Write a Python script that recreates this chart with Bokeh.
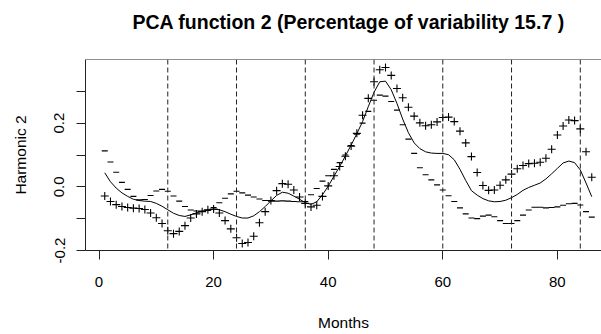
import math
from bokeh.plotting import figure
from bokeh.models import Span, FixedTicker, Title, Range1d
from bokeh.embed import file_html
from bokeh.resources import INLINE

months = list(range(1, 87))

mean_curve = [
    0.044, 0.016, -0.004, -0.019, -0.030, -0.039, -0.043, -0.045, -0.046, -0.052,
    -0.061, -0.072, -0.083, -0.090, -0.093, -0.088, -0.082, -0.077, -0.073, -0.070,
    -0.072, -0.078, -0.086, -0.093, -0.098, -0.098, -0.091, -0.078, -0.062, -0.044,
    -0.027, -0.017, -0.020, -0.029, -0.039, -0.050, -0.055, -0.047, -0.025, 0.002,
    0.033, 0.064, 0.097, 0.131, 0.167, 0.205, 0.252, 0.297, 0.330, 0.332,
    0.305, 0.262, 0.213, 0.170, 0.138, 0.120, 0.110, 0.106, 0.105, 0.105,
    0.101, 0.085, 0.055, 0.020, -0.012, -0.026, -0.037, -0.044, -0.047, -0.046,
    -0.042, -0.034, -0.024, -0.011, -0.002, 0.005, 0.012, 0.025, 0.041, 0.058,
    0.075, 0.081, 0.076, 0.053, 0.012, -0.031,
]

plus_curve = [
    -0.029, -0.046, -0.056, -0.062, -0.065, -0.067, -0.068, -0.071, -0.082, -0.097,
    -0.115, -0.138, -0.147, -0.140, -0.122, -0.098, -0.085, -0.078, -0.072, -0.070,
    -0.082, -0.106, -0.132, -0.160, -0.178, -0.175, -0.155, -0.113, -0.078, -0.043,
    -0.012, 0.010, 0.008, -0.010, -0.032, -0.052, -0.063, -0.058, -0.030, 0.003,
    0.035, 0.064, 0.096, 0.128, 0.168, 0.225, 0.278, 0.330, 0.368, 0.375,
    0.350, 0.309, 0.280, 0.250, 0.222, 0.201, 0.192, 0.195, 0.204, 0.218,
    0.219, 0.205, 0.175, 0.138, 0.095, 0.045, 0.004, -0.011, -0.010, 0.005,
    0.022, 0.040, 0.057, 0.067, 0.073, 0.074, 0.077, 0.090, 0.118, 0.163,
    0.191, 0.210, 0.208, 0.182, 0.110, 0.030,
]

minus_curve = [
    0.113, 0.078, 0.046, 0.014, -0.008, -0.030, -0.041, -0.040, -0.027, -0.013,
    -0.008, -0.014, -0.029, -0.045, -0.062, -0.073, -0.076, -0.076, -0.074, -0.065,
    -0.050, -0.036, -0.022, -0.014, -0.019, -0.026, -0.032, -0.038, -0.043, -0.045,
    -0.045, -0.044, -0.045, -0.046, -0.047, -0.046, -0.025, -0.005, 0.018, 0.035,
    0.055, 0.076, 0.100, 0.130, 0.165, 0.200, 0.237, 0.272, 0.288, 0.285,
    0.268, 0.241, 0.195, 0.150, 0.105, 0.060, 0.038, 0.022, 0.006, -0.010,
    -0.028, -0.046, -0.066, -0.085, -0.098, -0.100, -0.092, -0.089, -0.094, -0.106,
    -0.115, -0.115, -0.106, -0.089, -0.073, -0.064, -0.064, -0.066, -0.065, -0.063,
    -0.058, -0.053, -0.052, -0.057, -0.078, -0.095,
]

year_marks = [12, 24, 36, 48, 60, 72, 84]
x_ticks = [0, 20, 40, 60, 80]
y_ticks = [-0.2, 0.0, 0.2]
y_minor = [-0.1, 0.1, 0.3]
title_text = "PCA function 2 (Percentage of variability 15.7 )"

FONT = "Liberation Sans"
INK = "#222222"

p = figure(width=601, height=334, output_backend="svg", toolbar_location=None,
           x_range=Range1d(-2.36, 87.7), y_range=Range1d(-0.2, 0.4),
           min_border_left=85, min_border_right=0, min_border_top=59,
           min_border_bottom=84)
p.outline_line_color = None
p.grid.visible = False
p.background_fill_color = "white"
p.border_fill_color = "white"

# spacer between frame and title (nearest to the frame)
p.add_layout(Title(text=" ", text_font_size="1px", standoff=13), "above")
p.title = Title(text=title_text, align="left", offset=47, vertical_align="middle",
                text_font=FONT, text_font_size="19.5px", text_font_style="bold",
                text_color="black", standoff=19)

for ax in (p.xaxis[0], p.yaxis[0]):
    ax.axis_line_color = INK
    ax.major_tick_line_color = INK
    ax.minor_tick_line_color = INK
    ax.major_tick_in = 0
    ax.major_tick_out = 9
    ax.minor_tick_in = 0
    ax.minor_tick_out = 9
    ax.major_label_text_font = FONT
    ax.major_label_text_font_size = "15px"
    ax.major_label_text_color = "black"
    ax.axis_label_text_font = FONT
    ax.axis_label_text_font_size = "15.5px"
    ax.axis_label_text_font_style = "normal"
    ax.axis_label_text_color = "black"

p.xaxis.ticker = FixedTicker(ticks=x_ticks, minor_ticks=[])
p.xaxis.axis_label = "Months"
p.xaxis.major_label_standoff = 17
p.xaxis.axis_label_standoff = 24

p.yaxis.ticker = FixedTicker(ticks=y_ticks, minor_ticks=y_minor)
p.yaxis.major_label_orientation = "vertical"
p.yaxis.major_label_overrides = {-0.2: "-0.2", 0.0: "0.0", 0.2: "0.2"}
p.yaxis.axis_label = "Harmonic 2"
p.yaxis.major_label_standoff = 12
p.yaxis.axis_label_standoff = 23

p.add_layout(Span(location=0.4, dimension="width", line_color=INK, line_width=1))

for m in year_marks:
    p.add_layout(Span(location=m, dimension="height", line_color=INK,
                      line_width=1, line_dash="5 3"))

p.line(months, mean_curve, line_color="black", line_width=1)
p.scatter(months, plus_curve, marker="cross", size=8, line_color="black", line_width=1.1)
p.scatter(months, minus_curve, marker="dash", size=6, line_color="black", line_width=1.1)

open("out.html", "w").write(file_html(p, INLINE))
